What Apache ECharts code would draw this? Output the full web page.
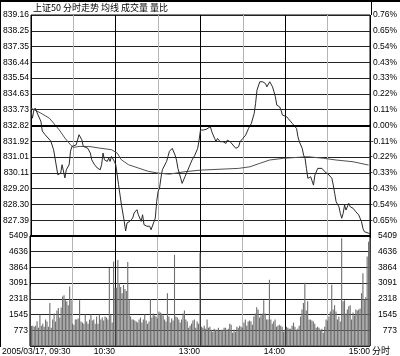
<!DOCTYPE html>
<html><head><meta charset="utf-8">
<script src="https://cdn.jsdelivr.net/npm/echarts@6/dist/echarts.min.js"></script>
<style>html,body{margin:0;padding:0;background:#fff}#c{width:400px;height:356px}</style>
</head><body><div id="c"></div>
<script>
const titleText = '上证50 分时走势 均线 成交量 量比';
const baseClose = 832.82;
const priceStep = 0.9057;
const priceTickLabels = ['', '827.39','828.30','829.20','830.11','831.01','831.92','832.82','833.73','834.63','835.54','836.44','837.35','838.25','839.16'];
const pctTickLabels = ['', '-0.65%','-0.54%','-0.43%','-0.33%','-0.22%','-0.11%','0.00%','0.11%','0.22%','0.33%','0.43%','0.54%','0.65%','0.76%'];
const volTickLabels = ['', '773','1545','2318','3091','3864','4636','5409'];
const volMax = 5409;
const timeTickMinutes = [60,120,180,240];
const timeTickLabels = ['10:30','13:00','14:00','15:00'];
const dateLabel = '2005/03/17, 09:30';
const unitLabel = '分时';

const priceMinutes = [0,1,2,3,4,5,7,8,9,10,11,14,16,17,19,21,22,23,24,25,27,28,29,30,32,34,36,37,40,42,43,45,47,49,50,51,52,54,55,56,57,58,59,60,
62,64,66,67,68,70,71,72,73,75,76,77,78,79,80,82,83,84,85,86,88,89,90,91,92,93,96,97,98,99,100,102,103,104,105,106,107,109,110,111,112,113,114,116,117,118,119,
120,121,122,124,125,127,128,129,130,131,132,134,135,136,138,139,141,142,145,146,147,148,150,152,154,156,158,159,160,162,163,164,165,166,167,168,169,170,171,173,174,176,177,178,179,
181,182,183,184,185,186,188,189,190,192,193,194,195,196,198,200,201,203,204,206,207,208,209,211,213,214,215,216,218,219,220,221,222,223,225,226,227,228,229,230,232,233,234,235,236,237,239,240];
const priceValues = [833.65,833.24,833.70,833.82,833.76,833.42,833.06,832.50,832.57,832.29,832.21,831.93,831.43,830.95,829.99,830.09,830.57,830.67,829.81,830.28,830.57,831.35,831.62,831.53,831.71,832.29,832.00,831.62,831.53,831.24,830.85,830.57,830.38,830.28,830.57,831.24,830.85,830.76,830.95,830.76,831.05,830.95,830.76,830.57,
829.42,828.28,827.32,826.77,827.23,827.32,827.23,827.51,827.80,827.99,827.70,827.61,827.32,827.70,827.13,827.04,826.94,827.04,826.84,826.94,827.51,828.47,829.04,829.23,829.81,830.28,830.76,831.05,831.34,831.41,831.51,831.12,830.84,830.36,830.08,829.79,829.50,829.88,829.98,830.26,830.45,830.55,830.84,831.12,831.22,831.51,831.98,
832.56,832.65,832.56,832.60,832.60,832.75,832.46,832.27,832.08,831.89,832.08,831.89,831.98,831.89,831.79,831.98,831.89,831.79,831.51,831.41,831.60,831.89,832.08,832.27,832.65,832.94,833.51,834.09,834.85,835.33,835.42,835.33,835.42,835.23,835.04,835.14,835.33,835.42,835.04,834.47,833.99,833.89,833.70,833.42,833.51,
833.32,833.32,833.13,833.23,832.94,832.94,832.65,832.17,831.89,831.51,831.12,830.94,830.36,829.79,829.88,829.40,829.98,830.36,830.45,830.36,830.45,830.17,830.08,829.98,829.79,829.40,828.93,828.45,828.16,827.78,827.50,827.78,828.26,827.97,828.36,828.16,828.26,828.07,827.97,827.87,827.69,827.78,827.30,826.92,826.73,826.83,826.64,826.60];

const avgMinutes = [0,7,13,20,24,28,30,34,41,48,57,61,64,69,76,83,90,98,109,120,147,155,162,169,179,196,207,216,228,239];
const avgValues = [833.82,833.53,833.24,832.57,832.10,831.71,831.56,831.62,831.62,831.53,831.43,831.24,830.85,830.57,830.38,830.19,830.09,830.03,830.17,830.26,830.36,830.45,830.65,830.84,830.94,831.03,830.94,830.84,830.74,830.55];

const volumes = [
2960,980,1000,950,1000,1220,900,1545,1000,1100,
950,1300,1200,950,2120,900,1300,1600,1200,1750,
1870,1400,1890,2440,2500,2250,2200,2000,2930,2250,
1100,1050,1300,1300,1350,2250,1200,1150,1100,1550,
1200,1100,1300,1550,1250,1300,1100,1450,1100,1550,
1300,1400,1250,1450,1400,1300,3830,1550,1150,4150,
2860,2860,4235,3100,2900,2600,3000,2800,2700,4130,
2300,1450,1300,1300,1250,1200,1150,1300,1400,1150,
1300,1550,1250,1100,1200,2300,1400,1600,1500,1450,
1350,1700,1650,1600,1500,1300,1200,2600,1450,1150,
1350,1250,4480,1450,1400,1300,1150,1300,1600,1750,
1300,1200,900,1000,1100,1250,1300,900,1200,1100,
4580,950,900,1000,850,1300,900,950,800,700,
850,800,800,900,750,800,800,900,900,800,
850,1100,1050,650,800,700,950,900,1000,950,
900,1150,1300,1000,1200,1250,1200,1050,1450,1600,
1900,1800,1400,1500,1600,2250,1600,1300,1300,3260,
1300,1100,1200,1300,950,1000,1050,1000,950,700,
800,950,900,850,850,1000,1150,950,800,850,
1000,1450,1800,2120,3110,1750,2200,1300,1300,1250,
1200,1100,900,950,900,800,850,650,950,1300,
1250,1450,1700,3010,1800,2000,1700,1300,1450,1200,
5300,2200,2250,1600,1800,1950,2000,1300,1650,1500,
1800,1750,1800,1850,2600,3580,2300,2400,4400,5130,5300];

const stepPct = priceStep / baseClose * 100;
const volStep = volMax / 7;
const toPct = p => (p / baseClose - 1) * 100;
const numFont = 'Liberation Sans';
const fs = 8.5;

const chart = echarts.init(document.getElementById('c'), null, {renderer: 'canvas'});
const gridLine = {show: true, lineStyle: {color: '#222', width: 1}};
const vLine = {show: true, lineStyle: {color: ['#000', '#b4b4b4'], width: 1}};
const baseY = {type: 'value', axisLine: {show: false}, axisTick: {show: false}};

chart.setOption({
  animation: false,
  backgroundColor: '#fff',
  grid: [
    {left: 30, width: 341, top: 15, height: 221, show: true, borderColor: '#000', borderWidth: 1},
    {left: 30, width: 341, top: 236, height: 111, show: true, borderColor: '#000', borderWidth: 1}
  ],
  xAxis: [
    {gridIndex: 0, type: 'value', min: 0, max: 240, interval: 30, axisLine: {show: false}, axisTick: {show: false}, axisLabel: {show: false}, splitLine: vLine},
    {gridIndex: 1, type: 'value', min: 0, max: 240, interval: 30, axisLine: {show: false}, axisTick: {show: false}, splitLine: vLine,
      axisLabel: {show: true, margin: 1, align: 'right', color: '#000', fontFamily: numFont, fontSize: fs, hideOverlap: false,
        formatter: v => { const i = timeTickMinutes.indexOf(Math.round(v)); return i >= 0 ? timeTickLabels[i] : ''; }}}
  ],
  yAxis: [
    Object.assign({}, baseY, {gridIndex: 0, position: 'left', min: -7 * stepPct, max: 7 * stepPct, interval: stepPct, splitLine: gridLine,
      axisLabel: {margin: 2, color: '#000', fontFamily: numFont, fontSize: fs, formatter: v => priceTickLabels[Math.round(v / stepPct) + 7] || ''}}),
    Object.assign({}, baseY, {gridIndex: 0, position: 'right', min: -7 * stepPct, max: 7 * stepPct, interval: stepPct, splitLine: {show: false},
      axisLabel: {margin: 27, align: 'right', color: '#000', fontFamily: numFont, fontSize: fs, formatter: v => pctTickLabels[Math.round(v / stepPct) + 7] || ''}}),
    Object.assign({}, baseY, {gridIndex: 1, position: 'left', min: 0, max: volMax, interval: volStep, splitLine: gridLine,
      axisLabel: {margin: 2, color: '#000', fontFamily: numFont, fontSize: fs, formatter: v => volTickLabels[Math.round(v / volStep)] || ''}}),
    Object.assign({}, baseY, {gridIndex: 1, position: 'right', min: 0, max: volMax, interval: volStep, splitLine: {show: false},
      axisLabel: {margin: 27, align: 'right', color: '#000', fontFamily: numFont, fontSize: fs, formatter: v => volTickLabels[Math.round(v / volStep)] || ''}})
  ],
  series: [
    {type: 'bar', xAxisIndex: 1, yAxisIndex: 2, barWidth: 1.1, itemStyle: {color: '#6e6e6e'},
      data: volumes.map((v, i) => [i, v]),
      markLine: {silent: true, symbol: ['none', 'none'], label: {show: false}, lineStyle: {color: '#000', width: 2, type: 'solid'}, data: [{yAxis: volMax}]}},
    {type: 'line', xAxisIndex: 0, yAxisIndex: 0, showSymbol: false, lineStyle: {color: '#505050', width: 1},
      data: avgMinutes.map((m, i) => [m, toPct(avgValues[i])])},
    {type: 'line', xAxisIndex: 0, yAxisIndex: 0, showSymbol: false, lineStyle: {color: '#2a2a2a', width: 1},
      data: priceMinutes.map((m, i) => [m, toPct(priceValues[i])]),
      markLine: {silent: true, symbol: ['none', 'none'], label: {show: false}, lineStyle: {color: '#000', width: 2, type: 'solid'}, data: [{yAxis: 0}]}}
  ],
  graphic: [
    {type: 'rect', shape: {x: 0, y: 0, width: 400, height: 2}, style: {fill: '#000'}},
    {type: 'line', shape: {x1: 371.5, y1: 0, x2: 371.5, y2: 15}, style: {stroke: '#000', lineWidth: 1}},
    {type: 'line', shape: {x1: 0.5, y1: 0, x2: 0.5, y2: 347}, style: {stroke: '#000', lineWidth: 1}},
    {type: 'text', left: 33, top: 3, style: {text: titleText, fill: '#000', font: '9px "Noto Sans CJK SC"'}},
    {type: 'text', left: 2, top: 347, style: {text: dateLabel, fill: '#000', font: fs + 'px "' + numFont + '"'}},
    {type: 'text', left: 372, top: 346, style: {text: unitLabel, fill: '#000', font: '9px "Noto Sans CJK SC"'}}
  ]
});
</script></body></html>
